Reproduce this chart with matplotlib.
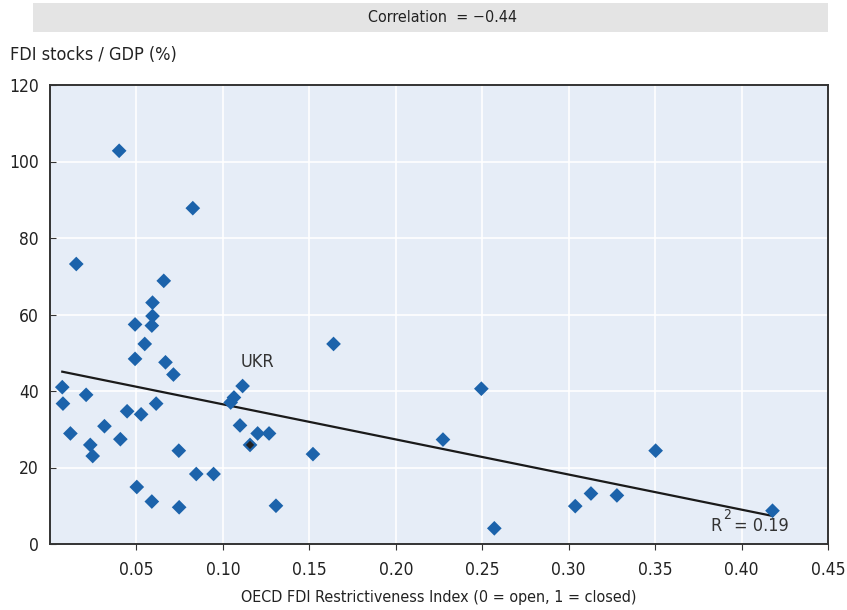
import numpy as np
import matplotlib
matplotlib.use("Agg")
from matplotlib import pyplot as plt

plt.rcParams['font.family'] = ['DejaVu Sans']
plt.rcParams['font.stretch'] = 'condensed'

# OECD FDI Restrictiveness Index vs FDI stocks / GDP (%)
fdi_index = [0.040, 0.0826, 0.0152, 0.0658, 0.0593, 0.0593, 0.0492, 0.0589,
             0.0548, 0.0492, 0.0668, 0.0714, 0.0071, 0.1114, 0.1064, 0.1045,
             0.0209, 0.0075, 0.0614, 0.0446, 0.0527, 0.0315, 0.1099, 0.0118,
             0.1201, 0.1267, 0.0233, 0.0407, 0.0247, 0.0745, 0.1521, 0.164,
             0.0846, 0.0946, 0.0502, 0.0589, 0.0747, 0.1307,
             0.2495, 0.2273, 0.2570, 0.3503, 0.3038, 0.3129, 0.3279, 0.4179]
fdi_stocks = [102.8, 87.8, 73.2, 68.8, 63.1, 59.6, 57.4, 57.1,
              52.3, 48.4, 47.5, 44.3, 41.0, 41.3, 38.3, 37.0,
              39.0, 36.7, 36.7, 34.7, 33.9, 30.8, 31.0, 28.9,
              28.9, 28.9, 25.9, 27.4, 23.0, 24.4, 23.5, 52.3,
              18.3, 18.3, 14.9, 11.1, 9.6, 10.0,
              40.6, 27.3, 4.1, 24.4, 9.9, 13.2, 12.7, 8.7]
ukr_index = 0.1157
ukr_stocks = 25.9

trend_intercept = 45.7
trend_slope = -91.8
r_squared = 0.19
correlation = -0.44

fig = plt.figure(figsize=(8.47, 6.10), dpi=100)
ax = fig.add_axes([50/847, 1-544/610, 778/847, 459/610])
ax.set_facecolor('#e6edf7')

ax.grid(True, color='white', linewidth=1.2)
ax.set_axisbelow(True)

xs = np.array([min(fdi_index), max(fdi_index)])
ax.plot(xs, trend_intercept + trend_slope*xs, color='#1a1a1a', linewidth=1.6, zorder=2)

ax.scatter(fdi_index, fdi_stocks, marker='D', s=56, color='#1c63ab', edgecolors='none', zorder=3)
ax.scatter([ukr_index], [ukr_stocks], marker='D', s=56, color='#1c63ab', edgecolors='none', zorder=4)
ax.scatter([ukr_index], [ukr_stocks], marker='D', s=18, color='#222222', edgecolors='none', zorder=5)

ax.text(0.1201, 47.5, 'UKR', fontsize=13, color='#333333', ha='center', va='center')
ax.text(0.382, 4.6, 'R', fontsize=13, color='#333333', ha='left', va='center')
ax.text(0.3893, 7.6, '2', fontsize=10, color='#333333', ha='left', va='center')
ax.text(0.3955, 4.6, '= %.2f' % r_squared, fontsize=13, color='#333333', ha='left', va='center')

ax.set_xlim(0, 0.45)
ax.set_ylim(0, 120)
ax.set_xticks([0.05, 0.10, 0.15, 0.20, 0.25, 0.30, 0.35, 0.40, 0.45])
ax.set_xticklabels(['0.05', '0.10', '0.15', '0.20', '0.25', '0.30', '0.35', '0.40', '0.45'])
ax.set_yticks([0, 20, 40, 60, 80, 100, 120])
ax.tick_params(axis='x', direction='out', length=4, color='#333333', labelsize=12.5, labelcolor='#222222', pad=8)
ax.tick_params(axis='y', direction='in', length=4, color='#333333', labelsize=12.5, labelcolor='#222222', pad=8)
for sp in ax.spines.values():
    sp.set_color('#333333')
    sp.set_linewidth(1.4)

ax.set_xlabel('OECD FDI Restrictiveness Index (0 = open, 1 = closed)', fontsize=11.5, color='#222222', labelpad=8)
fig.text(10/847, 1-55/610, 'FDI stocks / GDP (%)', fontsize=13, color='#222222', ha='left', va='center')

# header box
fig.patches.append(plt.Rectangle((33/847, 1-32/610), 795/847, 29/610, transform=fig.transFigure,
                                 facecolor='#e4e4e4', edgecolor='none'))
fig.text(442/847, 1-17/610, 'Correlation  = \u2212%.2f' % abs(correlation), fontsize=11.5,
         color='#222222', ha='center', va='center')

fig.savefig('out.png', dpi=100)
